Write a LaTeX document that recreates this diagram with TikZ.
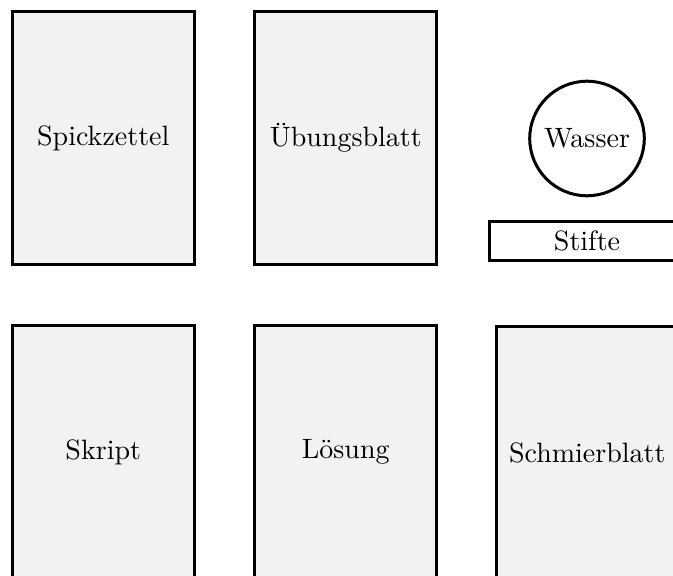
\documentclass[tikz,border=0pt]{standalone}
\tikzset{
  sheet/.style={draw, line width=1.07pt, fill=gray!10, rectangle, inner sep=0pt,
                minimum width=64.8pt, minimum height=90pt},
  stifte/.style={draw, line width=1.07pt, fill=white, rectangle, inner sep=0pt,
                 minimum width=69.3pt, minimum height=14.1pt},
  wasser/.style={draw, line width=1.07pt, fill=white, circle, inner sep=0pt,
                 minimum size=40.9pt}
}
\begin{document}
\begin{tikzpicture}[x=0.357pt, y=-0.357pt]
  \useasboundingbox (0,0) rectangle (673,576);
  \clip (0,0) rectangle (673,576);
  % desk, upper row
  \node[sheet] (spick) at (103.25,138) {Spickzettel};
  \node[sheet] (uebung) at (345.75,138) {Übungsblatt};
  \node[wasser] (wasser) at (587,138.5) {Wasser};
  \node[stifte] (stifte) at (587,241.25) {Stifte};
  % desk, lower row
  \node[sheet] (skript) at (103.25,452) {Skript};
  \node[sheet] (loesung) at (345.75,452) {Lösung};
  \node[sheet] (schmier) at (587.25,452.5) {Schmierblatt};
\end{tikzpicture}
\end{document}
